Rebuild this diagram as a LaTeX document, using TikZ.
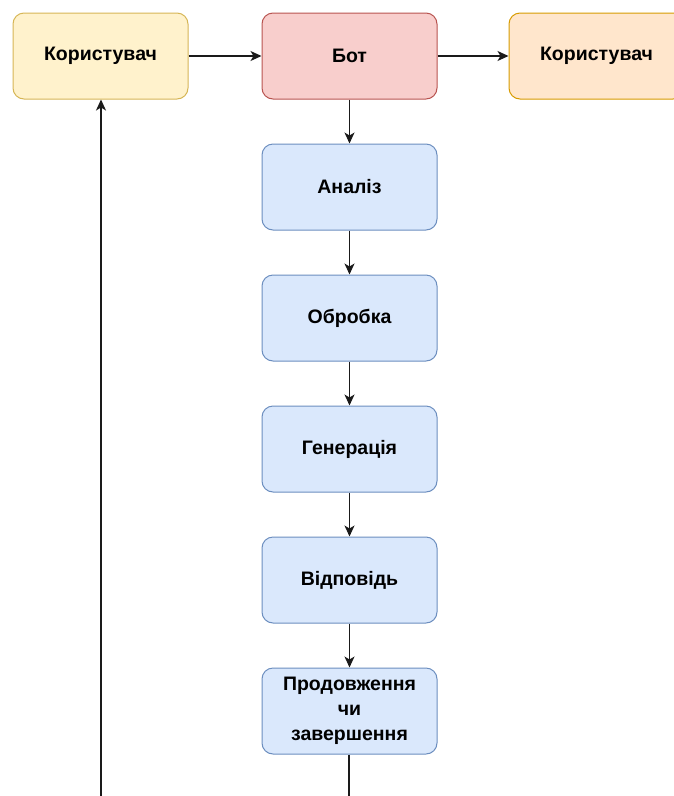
\documentclass[tikz,border=0pt]{standalone}
\usepackage{fontspec}
\setmainfont{Liberation Sans}
\usetikzlibrary{arrows.meta}
\definecolor{yelfill}{HTML}{FFF2CC}\definecolor{yeldraw}{HTML}{D6B656}
\definecolor{redfill}{HTML}{F8CECC}\definecolor{reddraw}{HTML}{B85450}
\definecolor{orafill}{HTML}{FFE6CC}\definecolor{oradraw}{HTML}{D79B00}
\definecolor{blufill}{HTML}{DAE8FC}\definecolor{bludraw}{HTML}{6C8EBF}
\definecolor{linecol}{HTML}{1A1A1A}
\tikzset{
  box/.style={draw, rounded corners=11pt, minimum width=175pt, minimum height=86pt,
    line width=1pt, align=center, font=\fontsize{19.5}{25}\selectfont\bfseries, inner sep=2pt},
  userbox/.style={box, fill=yelfill, draw=yeldraw},
  botbox/.style={box, fill=redfill, draw=reddraw},
  outbox/.style={box, fill=orafill, draw=oradraw},
  stepbox/.style={box, fill=blufill, draw=bludraw},
  flow/.style={draw=linecol, line width=1.3pt, -{Stealth[length=11pt,width=10pt,inset=3pt]}},
  plain/.style={draw=linecol, line width=1.3pt}
}
\begin{document}
\begin{tikzpicture}[x=1pt,y=-1pt]
  \useasboundingbox (0,0) rectangle (674,796);
  \clip (0,0) rectangle (674,796);
  % top row
  \node[userbox] (user1) at (100.5,56) {Користувач};
  \node[botbox]  (bot)   at (349.5,56) {Бот};
  \node[outbox]  (user2) at (596.5,56) {Користувач};
  % processing chain
  \node[stepbox] (analiz)   at (349.5,187) {Аналіз};
  \node[stepbox] (obrobka)  at (349.5,318) {Обробка};
  \node[stepbox] (generac)  at (349.5,449) {Генерація};
  \node[stepbox] (vidpov)   at (349.5,580) {Відповідь};
  \node[stepbox] (prodovzh) at (349.5,711) {Продовження\\чи\\завершення};
  % loose ends below the picture edge
  \coordinate (loopin)  at (101,800);
  \coordinate (loopout) at (349,800);
  % connectors
  \draw[flow] (user1) -- (bot);
  \draw[flow] (bot) -- (user2);
  \draw[flow] (bot) -- (analiz);
  \draw[flow] (analiz) -- (obrobka);
  \draw[flow] (obrobka) -- (generac);
  \draw[flow] (generac) -- (vidpov);
  \draw[flow] (vidpov) -- (prodovzh);
  \draw[plain] (prodovzh.south -| loopout) -- (loopout);
  \draw[flow] (loopin) -- (loopin |- user1.south);
\end{tikzpicture}
\end{document}
